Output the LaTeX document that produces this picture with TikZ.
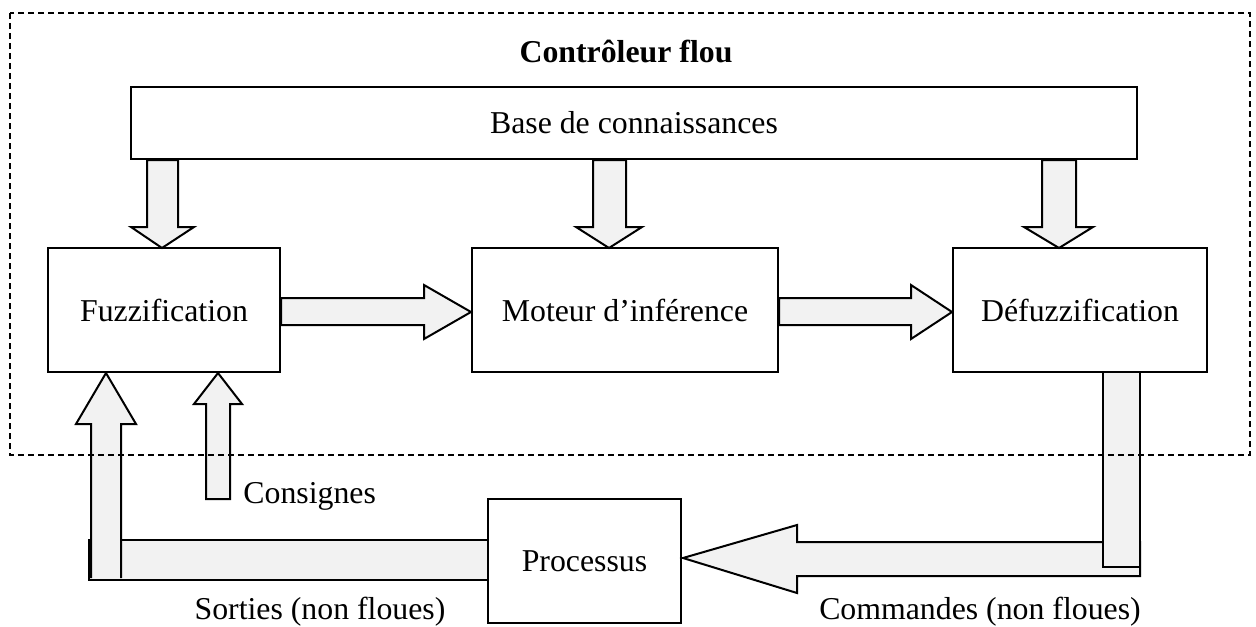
\documentclass[tikz,border=0pt]{standalone}
\usepackage{fontspec}
\setmainfont{Liberation Serif}
\definecolor{arrowfill}{HTML}{F2F2F2}
\begin{document}
\begin{tikzpicture}[x=0.5pt,y=-0.5pt,
  box/.style={draw=black, line width=1pt, fill=white, inner sep=0pt, align=center,
    font=\fontsize{15.9}{19}\selectfont},
  blockarrow/.style={draw=black, line width=1pt, fill=arrowfill, line join=miter},
  lbl/.style={inner sep=0pt, font=\fontsize{15.9}{19}\selectfont},
  frame/.style={draw=black, line width=0.8pt, dash pattern=on 3pt off 2pt}]
\useasboundingbox (0,0) rectangle (1256,626);

% boxes
\node[box, minimum width=503pt, minimum height=36pt] (base) at (634,123) {Base de connaissances};
\node[box, minimum width=116pt, minimum height=62pt] (fuzz) at (164,310) {Fuzzification};
\node[box, minimum width=153pt, minimum height=62pt] (mot) at (625,310) {Moteur d’inférence};
\node[box, minimum width=127pt, minimum height=62pt] (defuzz) at (1080,310) {Défuzzification};
\node[box, minimum width=96.5pt, minimum height=62pt] (proc) at (584.5,561) {Processus};

% down arrows from the knowledge base
\draw[blockarrow] (147,160) -- (178,160) -- (178,227) -- (194,227) -- (162,248)
  -- (131,227) -- (147,227) -- cycle;
\draw[blockarrow] (593,160) -- (626,160) -- (626,227) -- (642,227) -- (609,248)
  -- (576,227) -- (593,227) -- cycle;
\draw[blockarrow] (1042,160) -- (1076,160) -- (1076,227) -- (1093,227) -- (1059,248)
  -- (1024,227) -- (1042,227) -- cycle;

% right arrows
\draw[blockarrow] (281,298) -- (424,298) -- (424,285) -- (471,312) -- (424,339)
  -- (424,325) -- (281,325) -- cycle;
\draw[blockarrow] (779,298) -- (911,298) -- (911,285) -- (952,312) -- (911,339)
  -- (911,325) -- (779,325) -- cycle;

% commands: left arrow to the process, then the vertical band over it
\draw[blockarrow] (1140,542) -- (797,542) -- (797,525) -- (683,558) -- (797,593)
  -- (797,576) -- (1140,576) -- cycle;
\draw[blockarrow] (1103,373) -- (1103,567) -- (1140,567) -- (1140,373);

% outputs: horizontal band from the process, then the up arrow over it
\draw[blockarrow] (487,540) -- (89,540) -- (89,580) -- (487,580);
\draw[blockarrow] (91,578) -- (91,424) -- (76,424) -- (106,373) -- (136,424)
  -- (121,424) -- (121,578);

% setpoints arrow
\draw[blockarrow] (206,499) -- (206,404) -- (194,404) -- (218,373) -- (242,404)
  -- (230,404) -- (230,499) -- cycle;

% labels
\node[lbl, anchor=base west] (cons) at (243,503) {Consignes};
\node[lbl, anchor=base] (sort) at (320,619) {Sorties (non floues)};
\node[lbl, anchor=base] (comm) at (980,619) {Commandes (non floues)};
\node[lbl, anchor=base, font=\fontsize{15.9}{19}\selectfont\bfseries] (title) at (626,62) {Contrôleur flou};

% dashed frame
\draw[frame] (10,13) rectangle (1250,455);
\end{tikzpicture}
\end{document}
